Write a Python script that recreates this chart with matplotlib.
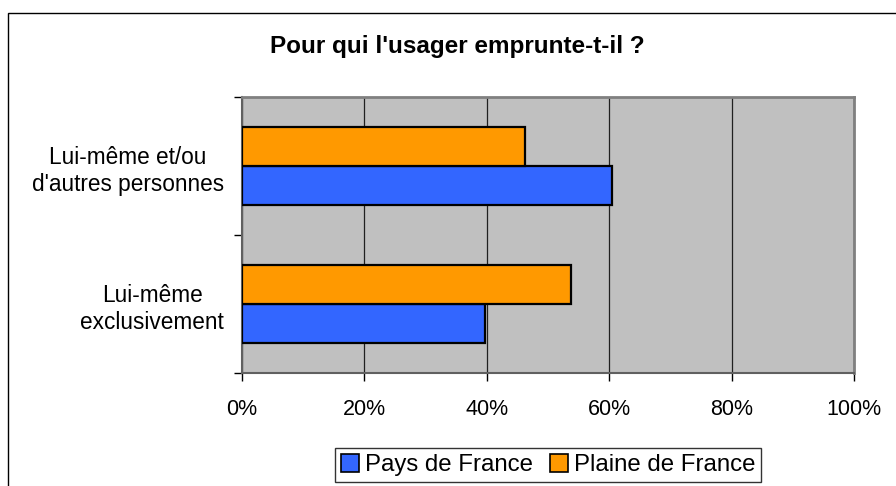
import matplotlib
matplotlib.use("Agg")
import matplotlib.pyplot as plt
from matplotlib.patches import Rectangle, Patch
import numpy as np

plt.rcParams['font.family'] = ['Liberation Sans', 'DejaVu Sans']

# données
categories = ["Lui-même\nexclusivement", "Lui-même et/ou\nd'autres personnes"]
pays_de_france = [39.7, 60.4]
plaine_de_france = [53.8, 46.2]
x_ticks = [0, 20, 40, 60, 80, 100]
x_labels = ["0%", "20%", "40%", "60%", "80%", "100%"]

W, H = 896, 486
fig = plt.figure(figsize=(W / 100, H / 100), dpi=100)
ax = fig.add_axes([242 / W, 1 - 373 / H, (854 - 242) / W, (373 - 97) / H])
ax.set_facecolor('#C0C0C0')

y = np.arange(len(categories))
h = 0.286
ax.barh(y - h / 2, pays_de_france, height=h, color='#3366FF', edgecolor='black', linewidth=1.6,
        label='Pays de France', zorder=3)
ax.barh(y + h / 2, plaine_de_france, height=h, color='#FF9900', edgecolor='black', linewidth=1.6,
        label='Plaine de France', zorder=3)

ax.set_xlim(0, 100)
ax.set_ylim(-0.5, len(categories) - 0.5)
ax.set_xticks(x_ticks)
ax.set_xticklabels(x_labels, fontsize=15.5)
ax.xaxis.grid(True, color='#202020', linewidth=0.9, zorder=1)

# graduations de l'axe des catégories entre les groupes
ax.set_yticks([-0.5, 0.5, 1.5])
ax.set_yticklabels([])
ax.set_yticks(y, minor=True)
ax.set_yticklabels(categories, minor=True, fontsize=16.3, ha='right', multialignment='center',
                   linespacing=1.25)
ax.tick_params(axis='y', which='minor', length=0, pad=13)
ax.tick_params(axis='y', which='major', length=6, width=1, color='black', direction='out')
ax.tick_params(axis='x', length=6, width=1, color='black', direction='out', pad=13)

for s in ['top', 'right']:
    ax.spines[s].set_color('#808080')
    ax.spines[s].set_linewidth(2)
for s in ['left', 'bottom']:
    ax.spines[s].set_color('#606060')
    ax.spines[s].set_linewidth(1.5)

fig.text(457 / W, 1 - 46 / H, "Pour qui l'usager emprunte-t-il ?", ha='center', va='center',
         fontsize=17.5, fontweight='bold')

handles = [Patch(facecolor='#3366FF', edgecolor='black', linewidth=1.2, label='Pays de France'),
           Patch(facecolor='#FF9900', edgecolor='black', linewidth=1.2, label='Plaine de France')]
leg = fig.legend(handles=handles, loc='upper center', bbox_to_anchor=(548 / W, 1 - 448 / H), ncol=2,
                 fontsize=17.3, frameon=True, fancybox=False, edgecolor='black', borderpad=0.25,
                 handlelength=0.75, handleheight=0.75, handletextpad=0.25, columnspacing=0.7,
                 borderaxespad=0)
leg.get_frame().set_linewidth(1)

# cadre du graphique (coupé à droite et en bas)
fig.patches.append(Rectangle((8 / W, -0.1), 1.2, (H - 13) / H + 0.1, transform=fig.transFigure,
                             fill=False, edgecolor='black', linewidth=1))

fig.savefig('out.png', dpi=100)
